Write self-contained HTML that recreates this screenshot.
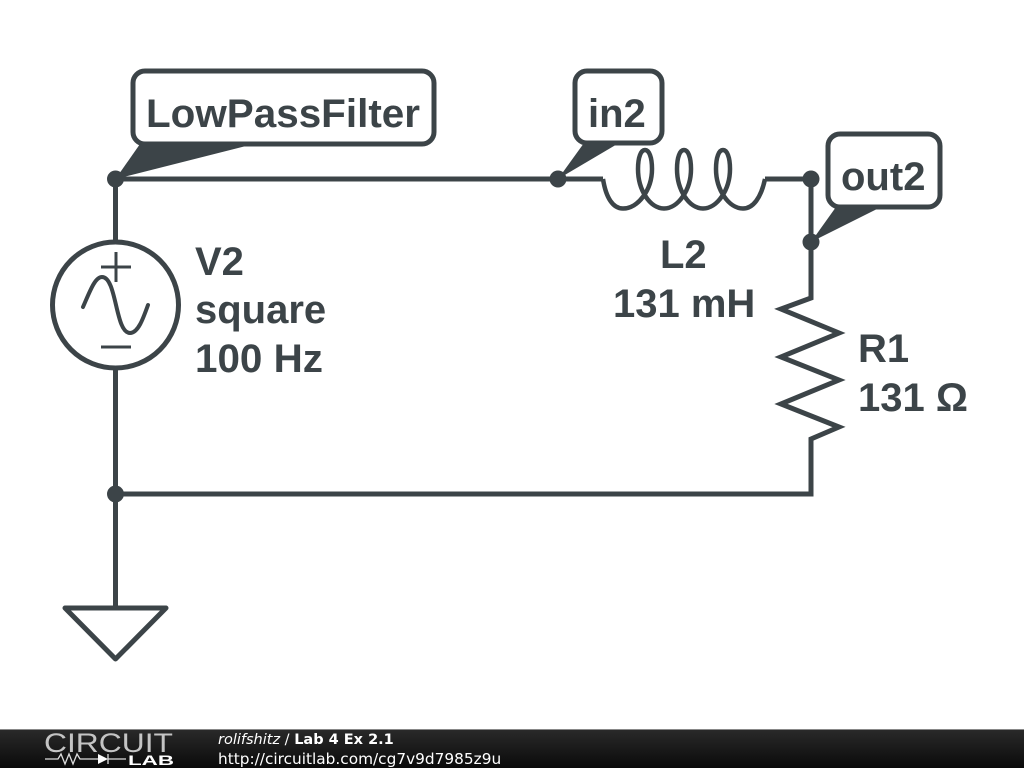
<!DOCTYPE html>
<html><head><meta charset="utf-8"><style>
html,body{margin:0;padding:0;background:#fff;width:1024px;height:768px;overflow:hidden}
svg{display:block}
</style></head><body>
<svg width="1024" height="768" viewBox="0 0 1024 768" xmlns="http://www.w3.org/2000/svg">
<defs><linearGradient id="g" x1="0" y1="0" x2="0" y2="1"><stop offset="0" stop-color="#2a2a2a"/><stop offset="1" stop-color="#0a0a0a"/></linearGradient></defs>
<rect width="1024" height="768" fill="#fff"/>
<g fill="none" stroke="#3c4448" stroke-width="5">
<path d="M115.500 179H603M765 179H811V243M811 438V494H115.500M115.500 179V243M115.500 368V608"/>
<path d="M811 243V298L781 309 839 333 781 357 839 380 781 404 839 427 811 439V494" stroke-linejoin="miter"/>
<circle cx="115.500" cy="305" r="63"/>
<path d="M603 179C606 198 613 208.500 623 208.500C638 208.500 652 190 652 169C652 157 649 150 645 150C641 150 638 157 638 169C638 190 650 208.500 664 208.500C678 208.500 691 190 691 169C691 157 688 150 684 150C680 150 677 157 677 169C677 190 689 208.500 703 208.500C717 208.500 730 190 730 169C730 157 727 150 723 150C719 150 716 157 716 169C716 190 729 208.500 743 208.500C753 208.500 761 198 765 179" stroke-width="4.500"/>
<path d="M101 267H131M116 252V282M101 347H131" stroke-width="3"/>
<path d="M83 307C90 291 95 277 102 277C117 277 115 333 130 333C138 333 143 319 148 305" stroke-linecap="round" stroke-width="4"/>
<path d="M65 608H166L115.500 659Z" stroke-linejoin="round"/>
<rect x="133" y="71" width="301" height="73" rx="12" fill="#fff"/>
<rect x="575" y="71" width="87" height="72" rx="12" fill="#fff"/>
<rect x="828" y="134" width="112" height="73" rx="12" fill="#fff"/>
</g>
<g fill="#3c4448">
<path d="M140 144H253L246 146 115.500 179Z"/>
<path d="M584 143H619L558 179Z"/>
<path d="M836 207H881L811 242Z"/>
<circle cx="115.500" cy="179" r="8.500"/><circle cx="558" cy="179" r="8.500"/><circle cx="811" cy="179" r="8.500"/><circle cx="811" cy="242" r="8.500"/><circle cx="115.500" cy="494" r="8.500"/>
</g>
<g fill="#3c4448" font-family="'Liberation Sans',sans-serif" font-weight="bold" font-size="40">
<text x="146" y="127" textLength="274" lengthAdjust="spacingAndGlyphs">LowPassFilter</text>
<text x="588" y="127">in2</text>
<text x="841" y="190">out2</text>
<text x="195" y="275">V2</text>
<text x="195" y="323">square</text>
<text x="195" y="372" textLength="128" lengthAdjust="spacingAndGlyphs">100 Hz</text>
<text x="660" y="268">L2</text>
<text x="613" y="317">131 mH</text>
<text x="858" y="362">R1</text>
<text x="858" y="411">131 Ω</text>
</g>
<rect y="729" width="1024" height="39" fill="url(#g)"/>
<rect y="729" width="1024" height="1" fill="#888"/>
<g fill="#fff">
<text x="44" y="752" font-family="'Liberation Sans',sans-serif" font-size="26.500" textLength="129" lengthAdjust="spacingAndGlyphs" fill="#c4c4c4">CIRCUIT</text>
<text x="128" y="765" font-family="'Liberation Sans',sans-serif" font-weight="bold" font-size="14" textLength="46" lengthAdjust="spacingAndGlyphs">LAB</text>
<path d="M45 759H58L61 754 65 764 69 754 73 764 77 754 80 759H99M108 754V764M108 759H126" fill="none" stroke="#ddd" stroke-width="1.300"/>
<path d="M98 754L108 759 98 764Z"/>
<text x="218" y="744" font-family="'DejaVu Sans',sans-serif" font-size="14.500"><tspan font-style="italic">rolifshitz</tspan> / <tspan font-weight="bold">Lab 4 Ex 2.1</tspan></text>
<text x="218" y="764" font-family="'DejaVu Sans',sans-serif" font-size="15.330">http://circuitlab.com/cg7v9d7985z9u</text>
</g>
</svg>
</body></html>
